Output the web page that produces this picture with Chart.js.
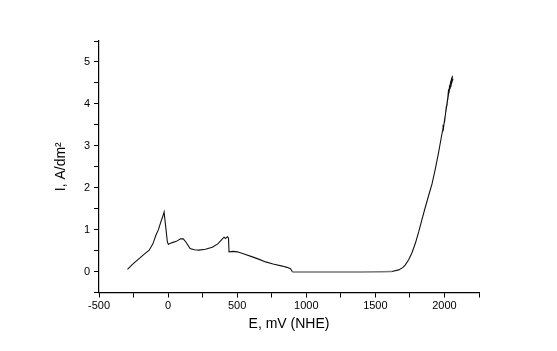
<!DOCTYPE html>
<html><head><meta charset="utf-8">
<script src="https://cdn.jsdelivr.net/npm/chart.js@4/dist/chart.umd.min.js"></script>
<style>html,body{margin:0;padding:0;background:#fff}#wrap{width:557px;height:351px}</style>
</head><body><div id="wrap"><canvas id="c" width="557" height="351"></canvas></div>
<script>
const E = [-294,-258,-210,-170,-137,-110,-89,-70,-53,-40,-29,-17,-5,2,30,60,90,110,130,159,190,224,270,320,360,393,405,415,422,430,437,441,470,501,550,610,660,706,760,826,860,886,893,900,1000,1200,1400,1550,1620,1669,1700,1717,1741,1765,1790,1814,1838,1862,1886,1910,1934,1958,1976,1994,1990,2004,2000,2014,2010,2024,2018,2030,2024,2038,2032,2046,2040,2052,2046,2058,2052,2062];
const I = [0.05,0.17,0.31,0.42,0.51,0.66,0.86,1.0,1.18,1.30,1.42,1.06,0.70,0.65,0.69,0.72,0.78,0.78,0.70,0.55,0.52,0.51,0.53,0.58,0.66,0.78,0.82,0.79,0.81,0.83,0.80,0.47,0.48,0.47,0.42,0.35,0.29,0.23,0.18,0.13,0.10,0.07,0.03,-0.01,-0.01,-0.01,-0.01,-0.005,0.0,0.04,0.10,0.16,0.28,0.45,0.68,0.95,1.25,1.54,1.82,2.09,2.45,2.85,3.18,3.50,3.35,3.70,3.55,3.95,3.80,4.15,3.95,4.35,4.10,4.45,4.25,4.55,4.35,4.62,4.40,4.67,4.50,4.60];
const xMin = -500, xMax = 2250, xStep = 250, xLabelStep = 500;
const yMin = -0.5, yMax = 5.5, yStep = 0.5, yLabelStep = 1;
const xTitle = 'E, mV (NHE)';
const yTitle = 'I, A/dm\u00B2';

const pts = E.map((e,i)=>({x:e,y:I[i]}));
const font = {family:'"Liberation Sans", Arial, sans-serif', size:11};
new Chart(document.getElementById('c'), {
  type:'scatter',
  data:{datasets:[{data:pts, showLine:true, pointRadius:0, borderColor:'#111', borderWidth:1.1, tension:0,
    segment:{borderColor:ctx=> (ctx.p0.parsed.x>=900 && ctx.p1.parsed.x<=1620) ? '#777' : '#111',
             borderWidth:ctx=> (ctx.p0.parsed.x>=900 && ctx.p1.parsed.x<=1620) ? 1.6 : 1.1}}]},
  options:{
    responsive:false, animation:false,
    layout:{padding:{left:0,right:78,top:41,bottom:0}},
    plugins:{legend:{display:false}, tooltip:{enabled:false}},
    scales:{
      x:{type:'linear', min:xMin, max:xMax,
        afterFit:s=>{s.height=58.5;},
        afterBuildTicks:s=>{s.ticks=[];for(let v=xMin;v<=xMax+1e-9;v+=xStep)s.ticks.push({value:v});},
        ticks:{font, color:'#000', padding:2, maxRotation:0, autoSkip:false,
          callback:v=> (Math.abs(v % xLabelStep) < 1e-9 ? String(v) : '')},
        grid:{display:true, drawOnChartArea:false, drawTicks:true, tickLength:5, color:'#000', tickWidth:1},
        border:{display:true, color:'#000', width:1.2},
        title:{display:true, text:xTitle, font:{family:font.family, size:14}, color:'#000', padding:{top:0,bottom:18}}
      },
      y:{type:'linear', min:yMin, max:yMax,
        afterFit:s=>{s.width=99;},
        afterBuildTicks:s=>{s.ticks=[];for(let v=yMin;v<=yMax+1e-9;v+=yStep)s.ticks.push({value:Math.round(v*10)/10});},
        ticks:{font, color:'#000', padding:4, autoSkip:false,
          callback:v=> (Math.abs(v - Math.round(v)) < 1e-9 ? String(v) : '')},
        grid:{display:true, drawOnChartArea:false, drawTicks:true, tickLength:5, color:'#000', tickWidth:1},
        border:{display:true, color:'#000', width:1.2},
        title:{display:true, text:yTitle, font:{family:font.family, size:14}, color:'#000', padding:{top:53,bottom:0}}
      }
    }
  }
});
</script></body></html>
